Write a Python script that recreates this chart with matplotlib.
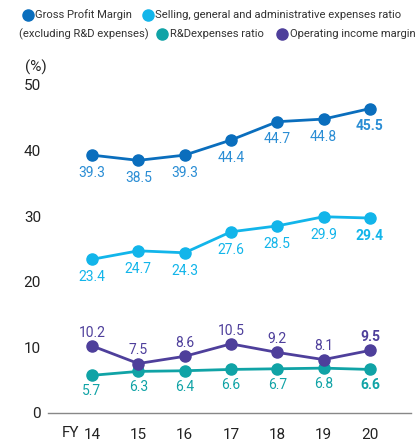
import matplotlib
matplotlib.use('Agg')
import matplotlib.pyplot as plt
from matplotlib.lines import Line2D

plt.rcParams['font.family'] = ['Roboto', 'DejaVu Sans']

years = ['14', '15', '16', '17', '18', '19', '20']

# marker positions as drawn in the source, and the printed labels
gross_pos = [39.3, 38.5, 39.3, 41.6, 44.4, 44.8, 46.4]
gross_lbl = [39.3, 38.5, 39.3, 44.4, 44.7, 44.8, 45.5]
sga_pos = [23.4, 24.7, 24.4, 27.6, 28.5, 29.9, 29.7]
sga_lbl = [23.4, 24.7, 24.3, 27.6, 28.5, 29.9, 29.4]
rd_vals = [5.7, 6.3, 6.4, 6.6, 6.7, 6.8, 6.6]
op_vals = [10.2, 7.5, 8.6, 10.5, 9.2, 8.1, 9.5]

c_gross, c_gross_txt = '#0a6ebd', '#2a8dd4'
c_sga = '#12b5ea'
c_rd = '#10a3a6'
c_op = '#4e3f9b'

fig = plt.figure(figsize=(4.17, 4.42), dpi=100)
ax = fig.add_axes([0.115, 0.0663, 0.871, 0.7414])

x = list(range(len(years)))
series = [
    (gross_pos, gross_lbl, c_gross, c_gross_txt, -12.7),
    (sga_pos, sga_lbl, c_sga, c_sga, -13.0),
    (rd_vals, rd_vals, c_rd, c_rd, -11.5),
    (op_vals, op_vals, c_op, c_op, 9.5),
]
for pos, lbl, col, tcol, dy in series:
    ax.plot(x, pos, '-o', color=col, lw=2, ms=8, zorder=3)
    for i, (p, l) in enumerate(zip(pos, lbl)):
        ax.annotate(f'{l:.1f}', (i, p), xytext=(0, dy), textcoords='offset points',
                    ha='center', va='center', fontsize=10, color=tcol,
                    fontweight='bold' if i == len(pos) - 1 else 'normal')

ax.set_xlim(-0.95, 6.89)
ax.set_ylim(0, 50)
ax.set_yticks([0, 10, 20, 30, 40, 50])
ax.set_xticks(x)
ax.set_xticklabels(years)
ax.tick_params(length=0, labelsize=11, colors='#222222')
ax.tick_params(axis='x', pad=11)
ax.tick_params(axis='y', pad=5)
for s in ['top', 'right', 'left']:
    ax.spines[s].set_visible(False)
ax.spines['bottom'].set_color('#888888')
ax.spines['bottom'].set_linewidth(1)

ax.annotate('FY', (0, 0), xycoords=('data', 'axes fraction'), xytext=(-9.5, -14.5),
            textcoords='offset points', ha='right', va='center', fontsize=11, color='#222222')
fig.text(25 / 417, 1 - 67 / 442, '(%)', fontsize=11, color='#222222', va='center')

# legend drawn as text rows
def dot(xp, yp, col):
    fig.add_artist(Line2D([xp / 417], [1 - yp / 442], marker='o', ms=8, color=col,
                          transform=fig.transFigure))

def lab(xp, yp, s):
    fig.text(xp / 417, 1 - yp / 442, s, fontsize=8.1, color='#333333', va='center')

dot(28, 15, c_gross); lab(35, 15, 'Gross Profit Margin')
dot(148, 15, c_sga); lab(155, 15, 'Selling, general and administrative expenses ratio')
lab(19, 34, '(excluding R&D expenses)')
dot(162, 34, c_rd); lab(170, 34, 'R&Dexpenses ratio')
dot(282, 34, c_op); lab(290, 34, 'Operating income margin')

fig.savefig('out.png', dpi=100)
